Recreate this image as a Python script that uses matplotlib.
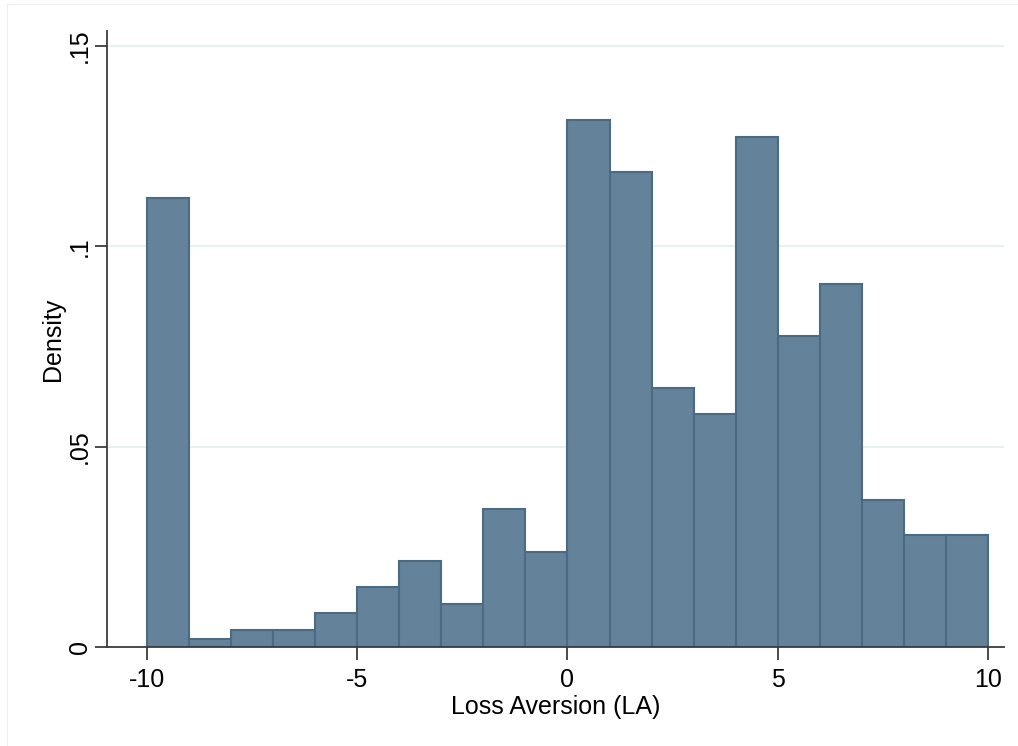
import matplotlib
matplotlib.use("Agg")
from matplotlib import pyplot as plt
from matplotlib.lines import Line2D
import numpy as np

plt.rcParams['font.family'] = ['Liberation Sans', 'DejaVu Sans']

# histogram bins (width 1) and densities
bin_edges = np.arange(-10, 11, 1)
density = [0.1121, 0.0020, 0.0042, 0.0042, 0.0085, 0.0150, 0.0215, 0.0107,
           0.0344, 0.0237, 0.1315, 0.1185, 0.0646, 0.0581, 0.1273, 0.0776,
           0.0906, 0.0367, 0.0280, 0.0280]
x_ticks = [-10, -5, 0, 5, 10]
y_ticks = [0, 0.05, 0.10, 0.15]
y_labels = ['0', '.05', '.1', '.15']

fig = plt.figure(figsize=(10.18, 7.46), dpi=100)
ax = fig.add_axes([0.1051, 0.1327, 0.9862 - 0.1051, 0.9584 - 0.1327])

# faint outer border (only left and top edges visible in the crop)
fig.lines.append(Line2D([0.007, 0.007], [0, 0.995], transform=fig.transFigure,
                        color='#eef1f3', linewidth=1))
fig.lines.append(Line2D([0.007, 1.0], [0.995, 0.995], transform=fig.transFigure,
                        color='#eef1f3', linewidth=1))

for yt in y_ticks[1:]:
    ax.axhline(yt, color='#e8f0f2', linewidth=1.5, zorder=0)

ax.bar(bin_edges[:-1], density, width=1, align='edge', color='#64829a',
       edgecolor='#4b6b85', linewidth=1.5, zorder=2)

ax.set_xlim(-10.95, 10.38)
ax.set_ylim(0, 0.1537)
ax.set_xticks(x_ticks)
ax.set_xticklabels([str(t) for t in x_ticks], fontsize=18)
ax.set_yticks(y_ticks)
ax.set_yticklabels(y_labels, fontsize=18, rotation=90, va='center')

for s in ['top', 'right']:
    ax.spines[s].set_visible(False)
for s in ['left', 'bottom']:
    ax.spines[s].set_color('#3c3c3c')
    ax.spines[s].set_linewidth(1.3)
    ax.spines[s].set_zorder(3)
ax.tick_params(axis='both', direction='out', length=9, width=1.3, color='#3c3c3c')
ax.tick_params(axis='x', pad=6)
ax.tick_params(axis='y', pad=2)

ax.set_xlabel('Loss Aversion (LA)', fontsize=18, labelpad=2)
ax.set_ylabel('Density', fontsize=18, labelpad=2)

fig.savefig('out.png', dpi=100, facecolor='white')
